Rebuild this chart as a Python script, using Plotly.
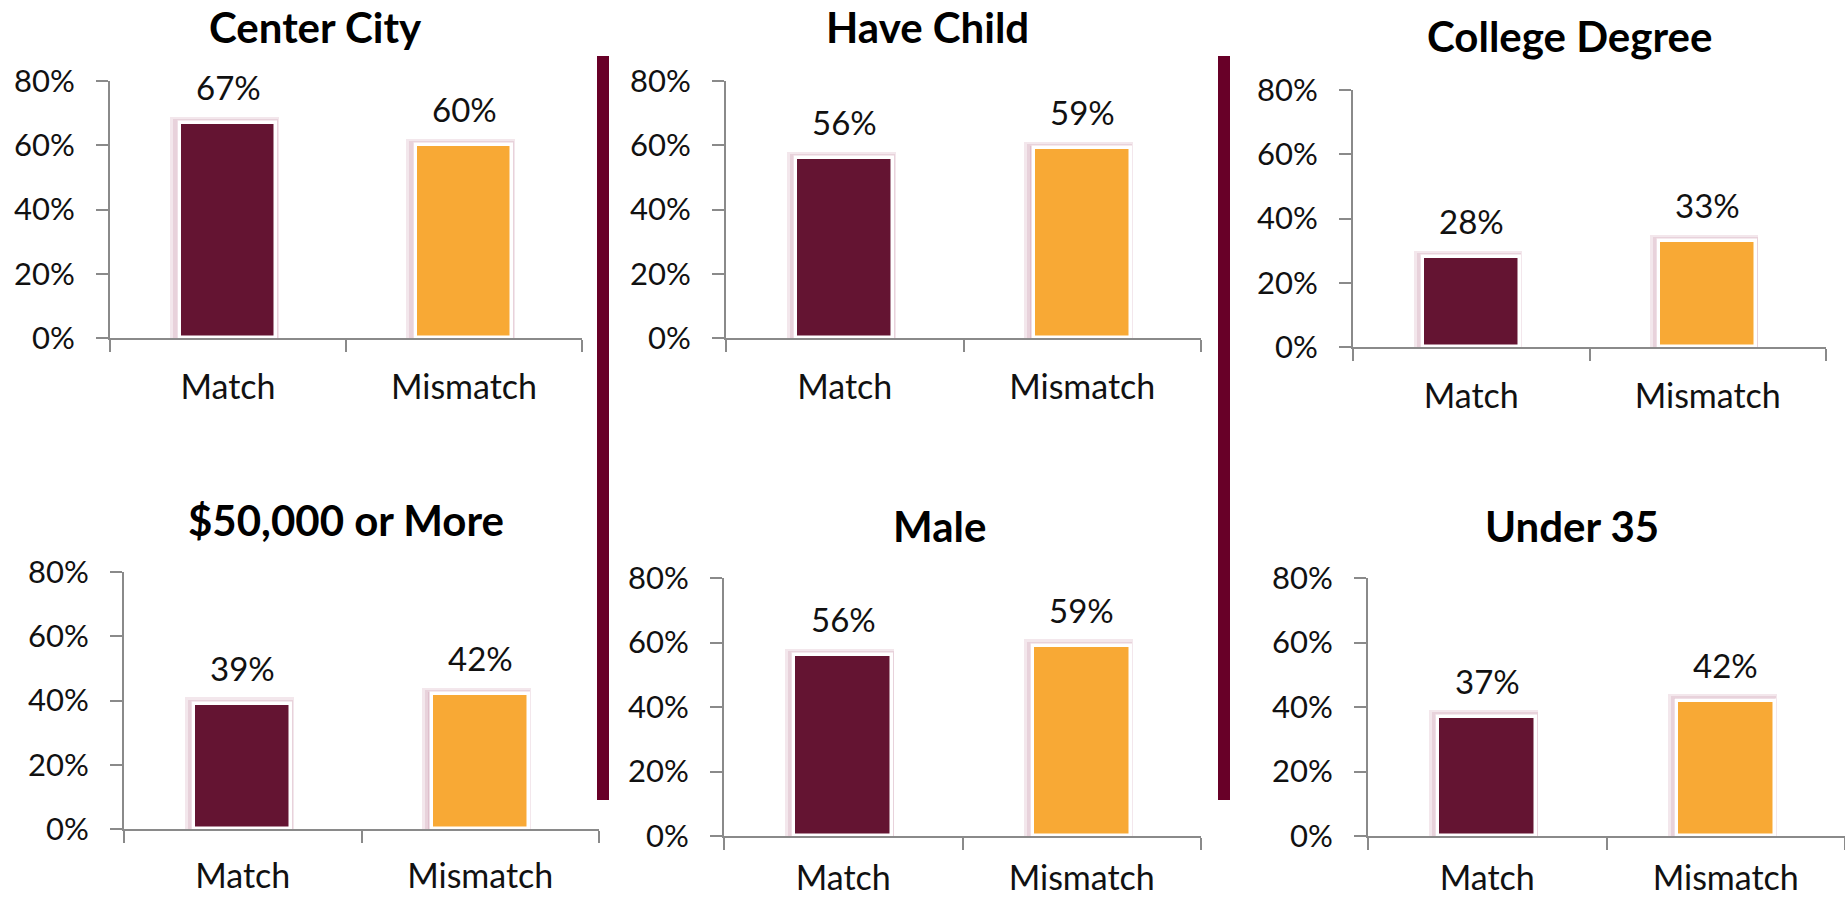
import plotly.graph_objects as go

# ---- data ----
panel_titles = ["Center City", "Have Child", "College Degree",
                "$50,000 or More", "Male", "Under 35"]
categories = ["Match", "Mismatch"]
match_vals = [0.67, 0.56, 0.28, 0.39, 0.56, 0.37]
mismatch_vals = [0.60, 0.59, 0.33, 0.42, 0.59, 0.42]
y_ticks = [0, 0.2, 0.4, 0.6, 0.8]

# ---- layout geometry (pixels in 1845x900) ----
W, H = 1845, 900
# (x_left, x_right, y_zero, y_top) of each plot area
boxes = [
    (110, 582, 338, 81),
    (726, 1201, 338, 81),
    (1353, 1826, 347, 90),
    (124, 599, 829, 572),
    (724, 1201, 836, 578),
    (1368, 1845, 836, 578),
]
title_pos = [(315, 27), (927, 27), (1569, 36), (346, 520), (939, 526), (1572, 526)]
label_standoff = [18, 18, 18, 16, 11, 11]

MAROON = "#641432"
ORANGE = "#F8A935"
DIVIDER = "#680028"
AXIS = "#8a8a8a"
FONT = "Lato"

fig = go.Figure()
layout_axes = {}
annotations = []

for i, title in enumerate(panel_titles):
    n = i + 1
    xa = "x" if n == 1 else f"x{n}"
    ya = "y" if n == 1 else f"y{n}"
    vals = [match_vals[i], mismatch_vals[i]]
    # soft glow behind bars (three layered translucent bars)
    for k in (3, 2, 1):
        fig.add_trace(go.Bar(
            x=categories, y=[v + 0.0065 * k for v in vals], xaxis=xa, yaxis=ya,
            width=0.41 + 0.016 * k, offset=-0.205 - 0.013 * k,
            marker=dict(color="rgba(160,70,105,0.13)", line=dict(width=0)),
            showlegend=False, hoverinfo="skip"))
    fig.add_trace(go.Bar(
        x=categories, y=vals, xaxis=xa, yaxis=ya,
        width=0.41,
        marker=dict(color=[MAROON, ORANGE], line=dict(color="white", width=3.5)),
        showlegend=False))
    for c, v in zip(categories, vals):
        annotations.append(dict(
            x=c, y=v, xref=xa, yref=ya, text=f"{round(v*100)}%",
            showarrow=False, yanchor="bottom", yshift=14,
            font=dict(family=FONT, size=33, color="#111111")))

    xl, xr, y0, yt = boxes[i]
    layout_axes["xaxis" if n == 1 else f"xaxis{n}"] = dict(
        domain=[xl / W, xr / W], anchor=ya, range=[-0.5, 1.5], automargin=False,
        showline=True, linecolor=AXIS, linewidth=2,
        ticks="outside", tickson="boundaries", ticklen=12, tickcolor=AXIS, tickwidth=2,
        showgrid=False, zeroline=False, ticklabelstandoff=label_standoff[i],
        tickfont=dict(family=FONT, size=34, color="#111111"), fixedrange=True)
    layout_axes["yaxis" if n == 1 else f"yaxis{n}"] = dict(
        domain=[1 - y0 / H, 1 - yt / H], anchor=xa, range=[0, 0.8], automargin=False,
        tickvals=y_ticks, tickformat=".0%",
        showline=True, linecolor=AXIS, linewidth=2,
        ticks="outside", ticklen=12, tickcolor=AXIS, tickwidth=2,
        showgrid=False, zeroline=False, ticklabelstandoff=15,
        tickfont=dict(family=FONT, size=31, color="#111111"), fixedrange=True)

    tx, ty = title_pos[i]
    annotations.append(dict(
        x=tx / W, y=1 - ty / H, xref="paper", yref="paper", text=f"<b>{title}</b>",
        showarrow=False, xanchor="center", yanchor="middle",
        font=dict(family=FONT, size=42, color="#000000")))

shapes = [
    dict(type="rect", xref="paper", yref="paper",
         x0=597 / W, x1=609 / W, y0=1 - 800 / H, y1=1 - 56 / H,
         fillcolor=DIVIDER, line=dict(width=0), layer="below"),
    dict(type="rect", xref="paper", yref="paper",
         x0=1218 / W, x1=1230 / W, y0=1 - 800 / H, y1=1 - 56 / H,
         fillcolor=DIVIDER, line=dict(width=0), layer="below"),
]

fig.update_layout(
    template="none",
    width=W, height=H, margin=dict(l=0, r=0, t=0, b=0, autoexpand=False),
    paper_bgcolor="white", plot_bgcolor="rgba(0,0,0,0)",
    barmode="overlay", bargap=0,
    annotations=annotations, shapes=shapes,
    **layout_axes)

fig.write_html("out.html", config={"displayModeBar": False})
